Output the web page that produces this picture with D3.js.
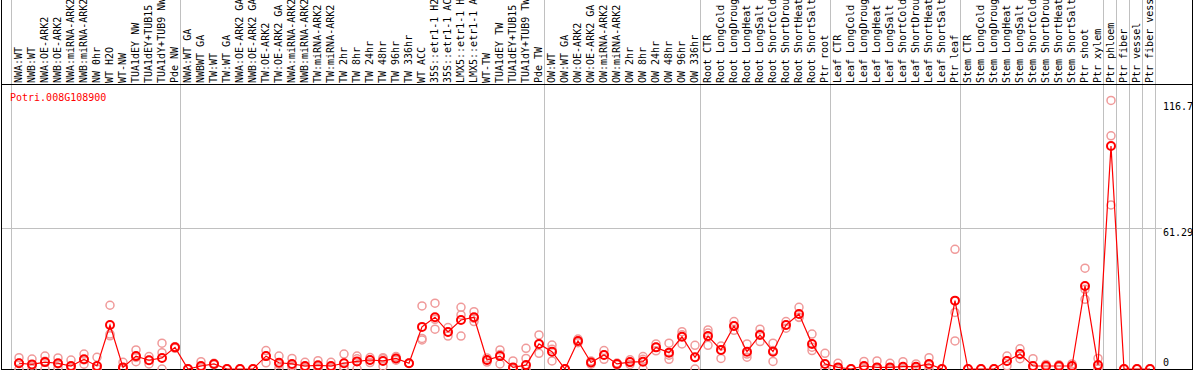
<!DOCTYPE html>
<html lang="en">
<head>
  <meta charset="UTF-8" />
  <title>Potri.008G108900 expression</title>
  <script src="https://d3js.org/d3.v7.min.js"></script>
  <style>
    body { margin: 0; background: #fff; }
    svg { display: block; }
    text { font-family: "DejaVu Sans Mono", monospace; font-size: 10px; }
  </style>
</head>
<body>
  <svg id="chart" width="1194" height="370"></svg>
  <script>
    const geneName = "Potri.008G108900";

    const samples = [
      "NWA:WT", "NWB:WT", "NWA:OE-ARK2", "NWB:OE-ARK2", "NWA:miRNA-ARK2", "NWB:miRNA-ARK2",
      "NW 0hr", "WT H2O", "WT-NW", "TUA1dEY NW", "TUA1dEY+TUB15", "TUA1dY+TUB9 NW", "Pde NW",
      "NWA:WT GA", "NWBWT GA", "TW:WT", "TW:WT GA", "NWA:OE-ARK2 GA", "NWB:OE-ARK2 GA",
      "TW:OE-ARK2", "TW:OE-ARK2 GA", "NWA:miRNA-ARK2", "NWB:miRNA-ARK2", "TW:miRNA-ARK2", "TW:miRNA-ARK2",
      "TW 2hr", "TW 8hr", "TW 24hr", "TW 48hr", "TW 96hr", "TW 336hr", "WT ACC",
      "35S::etr1-1 H2O", "35S::etr1-1 ACC", "LMX5::etr1-1 H2O", "LMX5::etr1-1 ACC",
      "WT-TW", "TUA1dEY TW", "TUA1dEY+TUB15 TW", "TUA1dY+TUB9 TW", "Pde TW",
      "OW:WT", "OW:WT GA", "OW:OE-ARK2", "OW:OE-ARK2 GA", "OW:miRNA-ARK2", "OW:miRNA-ARK2",
      "OW 2hr", "OW 8hr", "OW 24hr", "OW 48hr", "OW 96hr", "OW 336hr",
      "Root CTR", "Root LongCold", "Root LongDrought", "Root LongHeat", "Root LongSalt",
      "Root ShortCold", "Root ShortDrought", "Root ShortHeat", "Root ShortSalt", "Ptr root",
      "Leaf CTR", "Leaf LongCold", "Leaf LongDrought", "Leaf LongHeat", "Leaf LongSalt",
      "Leaf ShortCold", "Leaf ShortDrought", "Leaf ShortHeat", "Leaf ShortSalt", "Ptr leaf",
      "Stem CTR", "Stem LongCold", "Stem LongDrought", "Stem LongHeat", "Stem LongSalt",
      "Stem ShortCold", "Stem ShortDrought", "Stem ShortHeat", "Stem ShortSalt", "Ptr shoot", "Ptr xylem",
      "Ptr phloem", "Ptr fiber", "Ptr vessel", "Ptr fiber vessel"
    ];

    // number of samples in each block (blocks are split by grey lines)
    const groupSizes = [13, 28, 12, 10, 10, 11, 1, 1, 1, 1];

    const means = [
      2.5, 2.0, 3.0, 2.5, 1.3, 4.2, 1.3, 19.1, 0.7, 5.6, 3.8, 4.8, 9.4,
      0, 1.3, 2.2, 0, 0, 0, 5.6, 2.7, 2.2, 1.3, 1.6, 1.3, 2.5, 3.3, 3.9, 3.5, 4.6, 2.5,
      18.3, 22.5, 16.1, 21.3, 22.5, 3.9, 5.6, 0.7, 1.7, 10.9,
      7.5, 0, 12.2, 2.8, 6.1, 2.2, 3.0, 3.2, 9.4, 7.1, 14.0, 5.1,
      14.3, 8.3, 18.7, 7.5, 14.8, 7.5, 19.1, 23.9, 10.9, 2.2,
      0.7, 0, 1.3, 0.7, 0.7, 1.0, 1.0, 2.2, 0, 29.7,
      0, 0, 0, 3.5, 6.5, 1.3, 1.3, 1.3, 1.3, 36.1, 1.7,
      96.9, 0, 0, 0
    ];

    const rep1 = [
      4.9, 4.3, 5.6, 4.8, 3.9, 6.5, 5.1, 27.7, 2.9, 8.3, 5.4, 11.2, 9.7,
      0, 3.2, 2.5, 0, 0, 0, 8.0, 5.6, 4.6, 2.9, 3.6, 2.9, 6.5, 5.6, 5.0, 4.9, 5.4, 2.5,
      27.4, 28.6, 18.0, 26.8, 24.9, 4.8, 8.3, 3.5, 9.0, 14.8,
      10.4, 0, 13.0, 3.5, 8.0, 2.6, 4.0, 5.4, 10.9, 11.2, 16.2, 10.3,
      17.0, 10.0, 20.6, 10.9, 17.3, 11.2, 20.6, 26.8, 15.2, 6.8,
      2.5, 0, 3.3, 3.5, 2.5, 3.2, 2.2, 4.9, 0, 52.0,
      0, 0, 0, 5.6, 8.8, 4.5, 2.0, 1.8, 2.2, 43.8, 4.6,
      116.7, 0, 0, 0
    ];

    const rep2 = [
      2.6, 1.7, 3.4, 2.2, 0, 4.0, 0, 15.2, 0, 5.0, 3.8, 7.1, 9.4,
      0, 0.7, 2.2, 0, 0, 0, 5.6, 2.0, 1.5, 0.8, 1.0, 0.8, 1.0, 4.4, 3.9, 4.5, 4.6, 2.5,
      13.3, 21.6, 16.1, 23.5, 22.0, 3.9, 6.3, 0, 4.6, 10.9,
      8.6, 0, 12.2, 2.8, 6.1, 2.2, 3.0, 4.2, 9.4, 6.0, 14.9, 5.0,
      15.6, 8.3, 18.7, 6.5, 15.2, 8.0, 19.1, 22.5, 9.5, 0,
      0, 0, 0.6, 0, 0, 0, 0.8, 1.6, 0, 24.6,
      0, 0, 0, 3.5, 6.2, 0, 1.3, 1.3, 1.3, 34.6, 0.5,
      101.3, 0, 0, 0
    ];

    const rep3 = [
      0, 0, 0, 0.5, 0, 2.1, 0, 14.4, 0, 3.2, 2.2, 0, 9.0,
      0, 0, 1.9, 0, 0, 0, 2.7, 0.5, 0.5, 0.2, 0.2, 0.2, 0, 0.1, 2.8, 1.2, 3.8, 2.5,
      12.6, 17.3, 14.3, 14.3, 20.6, 3.0, 2.2, 0, 0, 6.8,
      3.5, 0, 11.4, 2.1, 4.2, 1.8, 2.0, 0, 7.9, 4.2, 10.9, 0,
      10.3, 4.6, 16.8, 5.1, 11.9, 3.3, 17.7, 22.4, 8.0, 0,
      0, 0, 0, 0, 0, 0, 0, 0, 0, 12.2,
      0, 0, 0, 1.4, 4.5, 0, 0.6, 0.8, 0.4, 30.3, 0,
      71.3, 0, 0, 0
    ];

    const tickValues = [0, 61.29, 116.7];

    const svg = d3.select("#chart");
    const W = 1194;
    const headerBottom = 84.5;
    const plotBottom = 369;

    const x = d3.scaleBand()
      .domain(d3.range(samples.length))
      .range([11, 11 + samples.length * 13])
      .padding(0);

    const y = d3.scaleLinear()
      .domain([0, d3.max(tickValues) * 1.05])
      .range([plotBottom, 87]);

    const cx = i => x(i) + 8;

    // grey block separators
    const bounds = [0];
    groupSizes.forEach(n => bounds.push(bounds[bounds.length - 1] + n));
    svg.append("g")
      .selectAll("line")
      .data(bounds)
      .join("line")
      .attr("x1", d => (d < samples.length ? x(d) : x(d - 1) + x.bandwidth()) + 0.5)
      .attr("x2", d => (d < samples.length ? x(d) : x(d - 1) + x.bandwidth()) + 0.5)
      .attr("y1", 0)
      .attr("y2", plotBottom)
      .attr("stroke", "#c0c0c0")
      .attr("stroke-width", 1);

    // horizontal grid line at middle tick
    svg.append("line")
      .attr("x1", 1).attr("x2", 1162)
      .attr("y1", Math.round(y(tickValues[1])) + 0.5)
      .attr("y2", Math.round(y(tickValues[1])) + 0.5)
      .attr("stroke", "#c0c0c0");

    // frame
    const frame = svg.append("g").attr("stroke", "#000").attr("stroke-width", 1);
    frame.append("line").attr("x1", 1.5).attr("x2", 1.5).attr("y1", 0).attr("y2", plotBottom + 0.5);
    frame.append("line").attr("x1", W - 1.5).attr("x2", W - 1.5).attr("y1", 0).attr("y2", plotBottom + 0.5);
    frame.append("line").attr("x1", 1).attr("x2", W - 1).attr("y1", headerBottom).attr("y2", headerBottom);
    frame.append("line").attr("x1", 1).attr("x2", W - 1).attr("y1", plotBottom + 0.5).attr("y2", plotBottom + 0.5);

    // sample labels (vertical)
    svg.append("g")
      .selectAll("text")
      .data(samples)
      .join("text")
      .attr("transform", (d, i) => `translate(${x(i) + 11},83) rotate(-90)`)
      .attr("fill", "#000")
      .text(d => d);

    // gene name
    svg.append("text")
      .attr("x", 10)
      .attr("y", 101)
      .attr("fill", "#ff0000")
      .text(geneName);

    // right value labels
    svg.append("g")
      .selectAll("text")
      .data(tickValues)
      .join("text")
      .attr("x", 1163)
      .attr("y", (d, i) => i === 0 ? y(d) - 3 : y(d) + (i === tickValues.length - 1 ? 10 : 8))
      .attr("fill", "#000")
      .text(d => d);

    const plot = svg.append("g");

    // replicate points
    const reps = [];
    [rep1, rep2, rep3].forEach(arr => arr.forEach((v, i) => reps.push({ i, v })));
    plot.append("g")
      .selectAll("circle")
      .data(reps)
      .join("circle")
      .attr("cx", d => cx(d.i))
      .attr("cy", d => y(d.v))
      .attr("r", 4)
      .attr("fill", "none")
      .attr("stroke", "#f09a9a")
      .attr("stroke-width", 1.5);

    // mean line
    const line = d3.line()
      .x((d, i) => cx(i))
      .y(d => y(d));
    plot.append("path")
      .datum(means)
      .attr("d", line)
      .attr("fill", "none")
      .attr("stroke", "#ff0000")
      .attr("stroke-width", 1.2);

    // mean points
    plot.append("g")
      .selectAll("circle")
      .data(means)
      .join("circle")
      .attr("cx", (d, i) => cx(i))
      .attr("cy", d => y(d))
      .attr("r", 4)
      .attr("fill", "none")
      .attr("stroke", "#ff0000")
      .attr("stroke-width", 2);
  </script>
</body>
</html>
